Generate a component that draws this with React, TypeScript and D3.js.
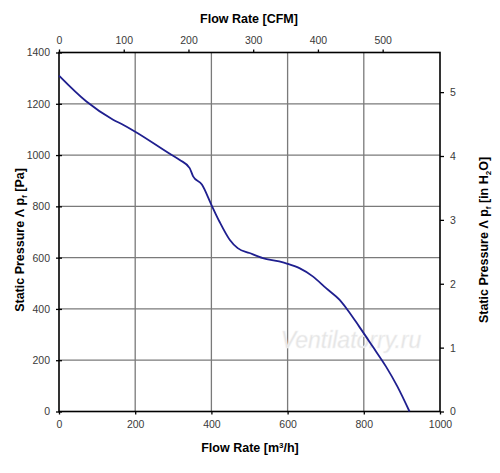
import { useEffect, useRef } from 'react';
import * as d3 from 'd3';

// flow rate [m3/h] and static pressure [Pa]
const flowRate = [0, 72, 142, 168, 199, 295, 317, 343, 352, 375, 400, 421, 448, 469, 500, 535, 578, 600, 631, 666, 701, 736, 757, 788, 823, 858, 888, 920];
const pressure = [1310, 1209, 1138, 1118, 1092, 1001, 981, 949, 917, 885, 806, 741, 670, 637, 618, 598, 585, 576, 559, 527, 481, 436, 397, 331, 254, 176, 98, 0];

const m3hTicks = [0, 200, 400, 600, 800, 1000];
const cfmTicks = [0, 100, 200, 300, 400, 500];
const paTicks = [0, 200, 400, 600, 800, 1000, 1200, 1400];
const inH2OTicks = [0, 1, 2, 3, 4, 5];

const M3H_TO_CFM = 0.58858;
const PA_PER_INH2O = 249.09;

export default function App() {
  const svgRef = useRef<SVGSVGElement>(null);

  useEffect(() => {
    if (!svgRef.current) return;
    const svg = d3.select(svgRef.current);
    svg.selectAll('*').remove();

    const left = 59;
    const right = 440;
    const top = 52.5;
    const bottom = 411.5;
    const font = 'Arial, "Liberation Sans", sans-serif';

    const x = d3.scaleLinear().domain([0, 1000]).range([left, right]);
    const xTop = d3.scaleLinear().domain([0, 1000 * M3H_TO_CFM]).range([left, right]);
    const y = d3.scaleLinear().domain([0, 1400]).range([bottom, top]);
    const yRight = d3.scaleLinear().domain([0, 1400 / PA_PER_INH2O]).range([bottom, top]);

    // grid
    const grid = svg.append('g');
    grid.selectAll('.vg')
      .data(m3hTicks.slice(1, -1))
      .enter()
      .append('line')
      .attr('x1', (d) => x(d))
      .attr('x2', (d) => x(d))
      .attr('y1', top)
      .attr('y2', bottom)
      .attr('stroke', '#7a7a7a')
      .attr('stroke-width', 1.3);
    grid.selectAll('.hg')
      .data(paTicks.slice(1, -1))
      .enter()
      .append('line')
      .attr('x1', left)
      .attr('x2', right)
      .attr('y1', (d) => y(d))
      .attr('y2', (d) => y(d))
      .attr('stroke', '#7a7a7a')
      .attr('stroke-width', 1.3);

    const styleAxis = (g: d3.Selection<SVGGElement, unknown, null, undefined>) => {
      g.select('.domain').remove();
      g.selectAll('.tick line').attr('stroke', '#000').attr('stroke-width', 1.3);
      g.selectAll('.tick text')
        .attr('fill', '#3a3a3a')
        .style('font-family', font)
        .style('font-size', '10.5px');
    };

    // bottom axis
    svg.append('g')
      .attr('transform', `translate(0,${bottom})`)
      .call(d3.axisBottom(x).tickValues(m3hTicks).tickSize(3).tickPadding(6).tickFormat(d3.format('d')))
      .call(styleAxis);

    // top axis
    svg.append('g')
      .attr('transform', `translate(0,${top})`)
      .call(d3.axisTop(xTop).tickValues(cfmTicks).tickSize(3).tickPadding(6).tickFormat(d3.format('d')))
      .call(styleAxis);

    // left axis
    svg.append('g')
      .attr('transform', `translate(${left},0)`)
      .call(d3.axisLeft(y).tickValues(paTicks).tickSizeInner(3).tickSizeOuter(0).tickPadding(6).tickFormat(d3.format('d')))
      .call(styleAxis)
      .selectAll('.tick line')
      .attr('x2', 3)
      .attr('x1', -3);

    // right axis
    svg.append('g')
      .attr('transform', `translate(${right},0)`)
      .call(d3.axisRight(yRight).tickValues(inH2OTicks).tickSize(4).tickPadding(6).tickFormat(d3.format('d')))
      .call(styleAxis);

    // watermark
    svg.append('text')
      .attr('x', 351)
      .attr('y', 348)
      .attr('text-anchor', 'middle')
      .style('font-family', font)
      .style('font-style', 'italic')
      .style('font-size', '23px')
      .attr('fill', '#e4e4e4')
      .attr('stroke', '#f4f4f4')
      .attr('stroke-width', 0.5)
      .text('Ventilatorry.ru');

    // frame
    svg.append('rect')
      .attr('x', left)
      .attr('y', top)
      .attr('width', right - left)
      .attr('height', bottom - top)
      .attr('fill', 'none')
      .attr('stroke', '#000')
      .attr('stroke-width', 1.6);

    // curve
    const pts = flowRate.map((f, i) => [f, pressure[i]] as [number, number]);
    const line = d3.line<[number, number]>()
      .x((d) => x(d[0]))
      .y((d) => y(d[1]))
      .curve(d3.curveMonotoneX);
    svg.append('path')
      .datum(pts)
      .attr('fill', 'none')
      .attr('stroke', '#1f1f8f')
      .attr('stroke-width', 1.8)
      .attr('d', line);

    // axis titles
    const title = (sel: d3.Selection<SVGTextElement, unknown, null, undefined>) =>
      sel.attr('text-anchor', 'middle')
        .style('font-family', font)
        .style('font-weight', 'bold')
        .style('font-size', '12.5px')
        .attr('fill', '#000');

    svg.append('text')
      .attr('x', 249)
      .attr('y', 23)
      .call(title)
      .text('Flow Rate [CFM]');

    const bt = svg.append('text')
      .attr('x', 250)
      .attr('y', 452)
      .call(title);
    bt.append('tspan').text('Flow Rate [m');
    bt.append('tspan').attr('dy', -4).style('font-size', '8px').text('3');
    bt.append('tspan').attr('dy', 4).text('/h]');

    const lt = svg.append('text')
      .attr('transform', `translate(24,${(top + bottom) / 2 + 8}) rotate(-90)`)
      .call(title);
    lt.append('tspan').text('Static Pressure Λ p');
    lt.append('tspan').attr('dy', 3).style('font-size', '8px').text('f');
    lt.append('tspan').attr('dy', -3).text(' [Pa]');

    const rt = svg.append('text')
      .attr('transform', `translate(488,${(top + bottom) / 2 + 8}) rotate(-90)`)
      .call(title);
    rt.append('tspan').text('Static Pressure Λ p');
    rt.append('tspan').attr('dy', 3).style('font-size', '8px').text('f');
    rt.append('tspan').attr('dy', -3).text(' [in H');
    rt.append('tspan').attr('dy', 3).style('font-size', '8px').text('2');
    rt.append('tspan').attr('dy', -3).text('O]');
  }, []);

  return (
    <svg
      ref={svgRef}
      width={500}
      height={473}
      style={{ position: 'absolute', left: 0, top: 0, background: '#fff' }}
    />
  );
}
